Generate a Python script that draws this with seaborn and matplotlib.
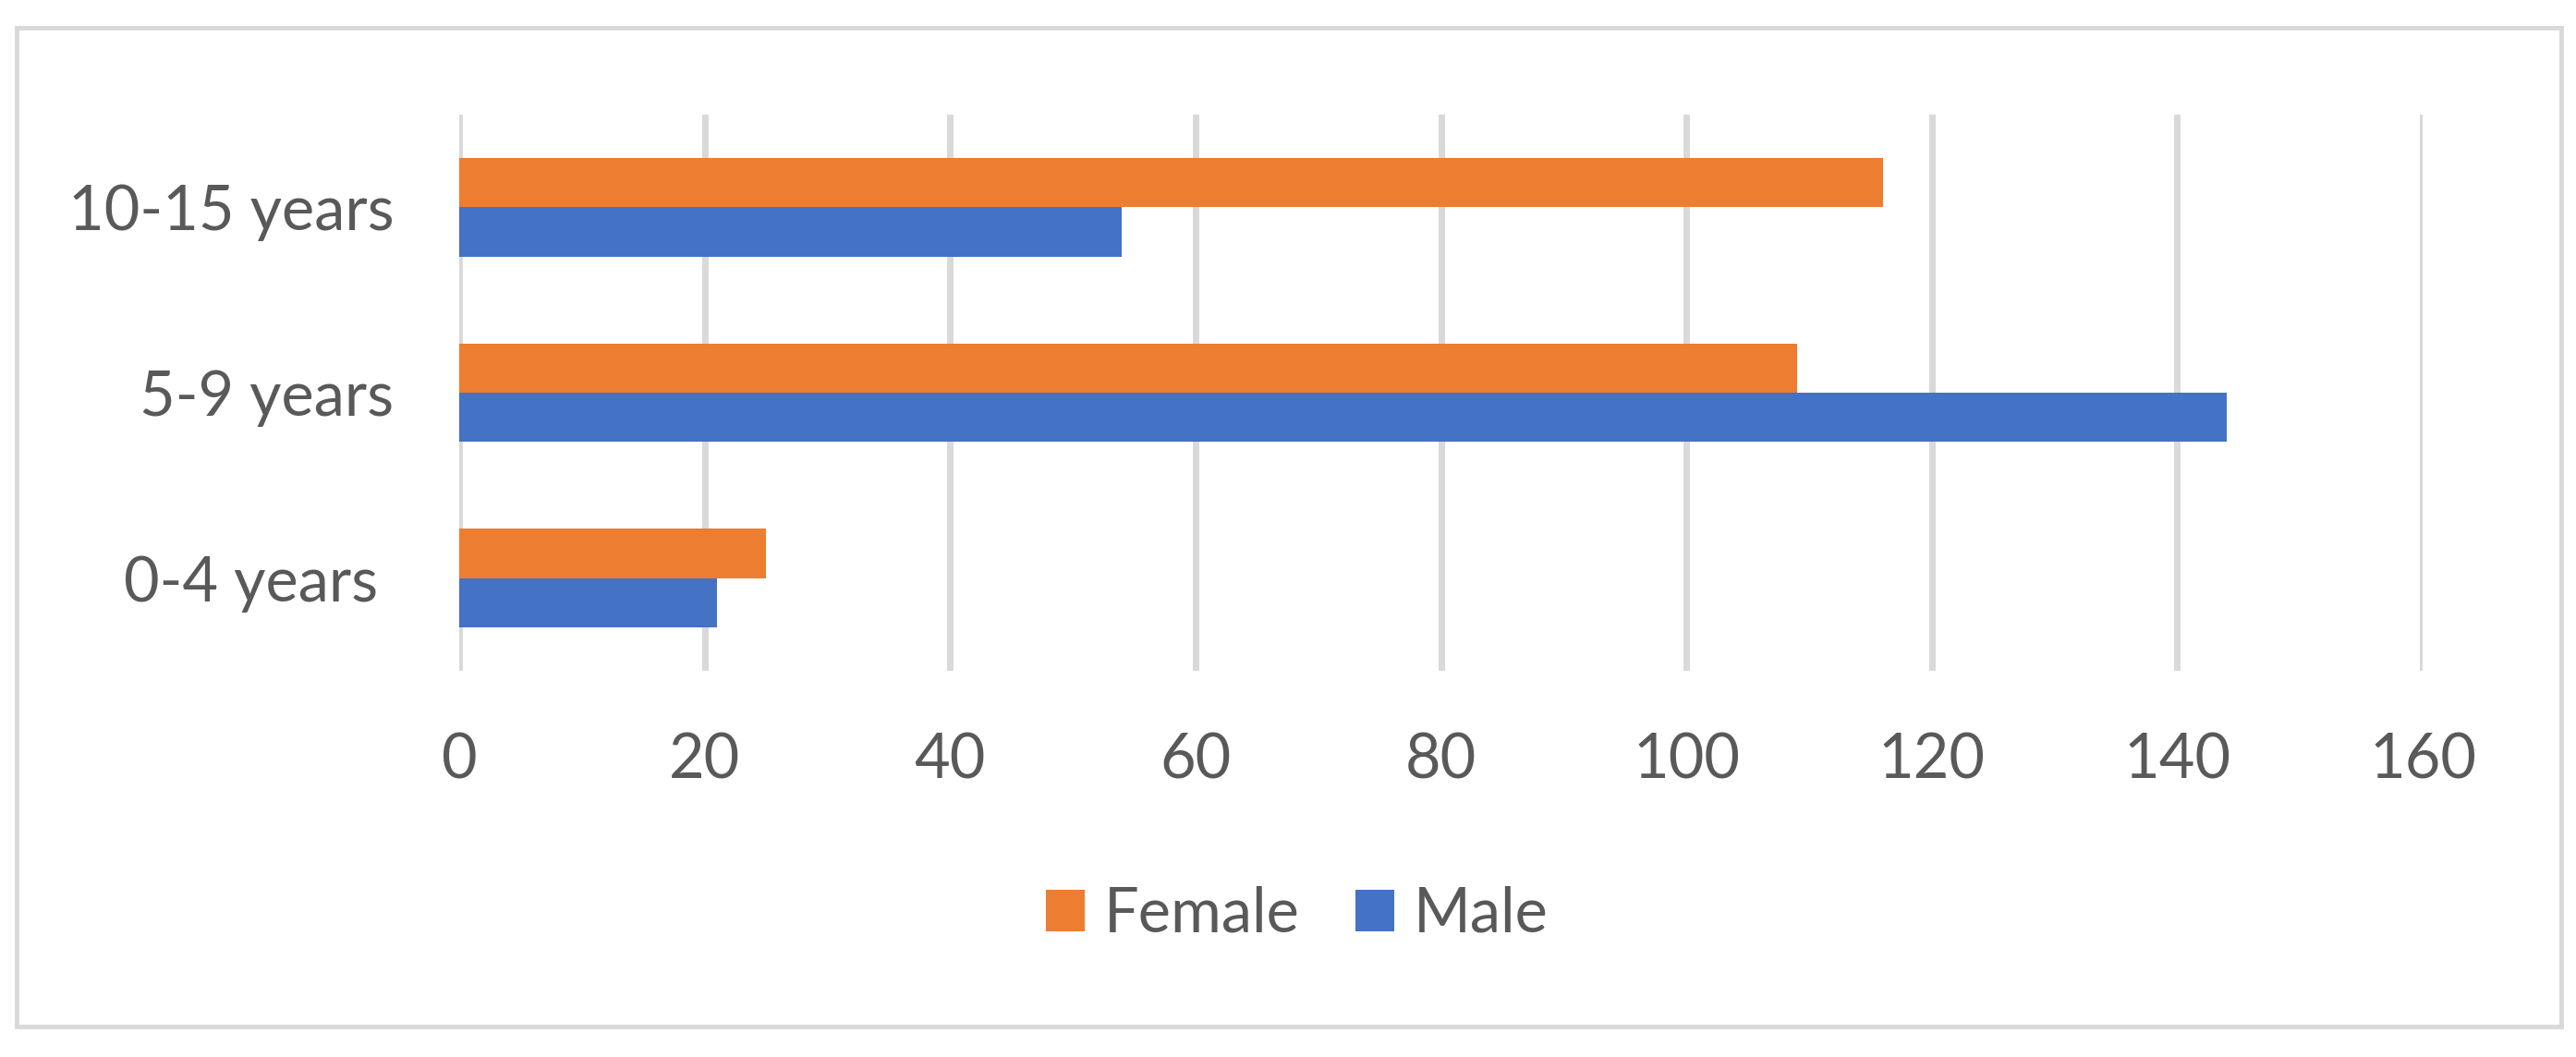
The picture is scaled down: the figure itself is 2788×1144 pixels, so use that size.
import pandas as pd
import numpy as np
import matplotlib.pyplot as plt
import matplotlib.patches as mpatches
import seaborn as sns

# data
age_groups = ["10-15 years", "5-9 years", "0-4 years "]
female = [116, 109, 25]
male = [54, 144, 21]
x_ticks = [0, 20, 40, 60, 80, 100, 120, 140, 160]

df = pd.DataFrame({
    "age": age_groups * 2,
    "sex": ["Female"] * 3 + ["Male"] * 3,
    "count": female + male,
})

sns.set_theme(style="white")
plt.rcParams['font.family'] = ['Lato', 'DejaVu Sans']
text_col = "#595959"
grid_col = "#D9D9D9"

fig = plt.figure(figsize=(27.88, 11.44), dpi=100)
ax = fig.add_axes([497 / 2788, 1 - 726 / 1144, (2622 - 497) / 2788, 602 / 1144])

sns.barplot(data=df, x="count", y="age", hue="sex", order=age_groups,
            hue_order=["Female", "Male"], palette=["#ED7D31", "#4472C4"],
            orient="h", width=0.53, saturation=1, linewidth=0, ax=ax, legend=True)

ax.set_xlim(0, 160)
ax.set_ylim(2.5, -0.5)
ax.set_xticks(x_ticks)
ax.set_axisbelow(True)
ax.grid(axis="x", color=grid_col, linewidth=5)
ax.grid(axis="y", visible=False)
for s in ax.spines.values():
    s.set_visible(False)
ax.set_xlabel("")
ax.set_ylabel("")
ax.tick_params(axis="both", length=0, labelsize=48, labelcolor=text_col)
ax.tick_params(axis="x", pad=48)
ax.tick_params(axis="y", pad=51)

handles, labels = ax.get_legend_handles_labels()
ax.get_legend().remove()
fig.legend(handles, labels, loc="center", bbox_to_anchor=(0.5035, 0.135), ncol=2,
           frameon=False, fontsize=48, labelcolor=text_col,
           handlelength=0.63, handleheight=0.66, handletextpad=0.31,
           columnspacing=0.9)

# outer chart border
fig.patches.append(mpatches.Rectangle((18 / 2788, 1 - 1111 / 1144), (2772 - 18) / 2788,
                                      (1111 - 30) / 1144, transform=fig.transFigure,
                                      fill=False, edgecolor=grid_col, linewidth=3.5))

fig.savefig("out.png", dpi=100, facecolor="white")
